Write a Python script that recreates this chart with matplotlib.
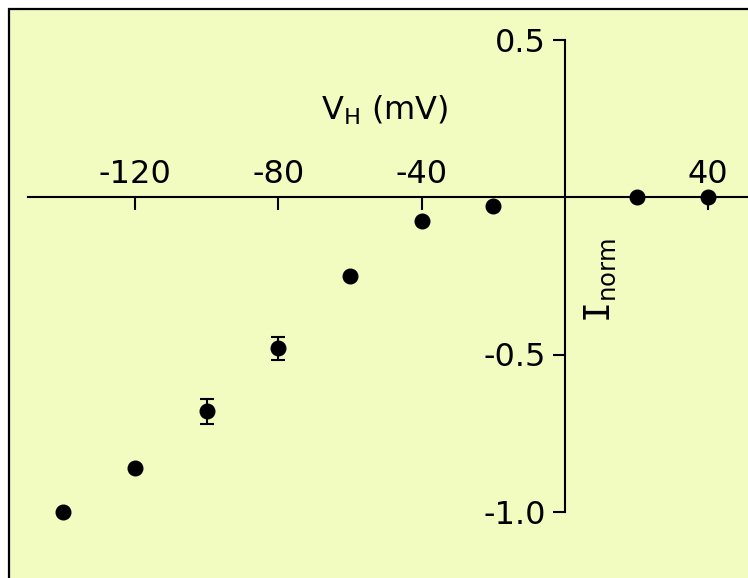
import matplotlib
matplotlib.use("Agg")
import matplotlib.pyplot as plt
from matplotlib.patches import Rectangle

# Holding potential (mV) and normalised current
v_hold = [-140, -120, -100, -80, -60, -40, -20, 20, 40]
i_norm = [-1.0, -0.86, -0.68, -0.48, -0.25, -0.075, -0.03, 0.0, 0.0]
i_err = [0.0, 0.0, 0.04, 0.037, 0.0, 0.0, 0.0, 0.0, 0.0]

x_ticks = [-120, -80, -40, 40]
y_ticks = [0.5, -0.5, -1.0]
y_tick_labels = ["0.5", "-0.5", "-1.0"]

plt.rcParams["axes.unicode_minus"] = False
plt.rcParams["font.family"] = "DejaVu Sans"

W, H = 748, 578
fig = plt.figure(figsize=(W / 100, H / 100), dpi=100)
fig.patch.set_facecolor("white")

# Panel background with black frame on left and top
bg = "#F2FBC0"
fig.patches.append(Rectangle((9 / W, -0.05), 1.2, 1 - 9 / H + 0.05,
                             transform=fig.transFigure, facecolor=bg,
                             edgecolor="black", linewidth=1.6, zorder=-10))

ax = fig.add_axes([0, 0, 1, 1])
ax.patch.set_visible(False)

px_per_mv = 143.3 / 40
px_per_unit = 315.0
x0, y0 = 565, 197
ax.set_xlim(-x0 / px_per_mv, (W - x0) / px_per_mv)
ax.set_ylim(-(H - y0) / px_per_unit, y0 / px_per_unit)

# Axes crossing at the origin
ax.spines["bottom"].set_visible(False)
ax.spines["right"].set_visible(False)
ax.spines["top"].set_position(("data", 0))
ax.spines["top"].set_bounds(-150, 60)
ax.spines["left"].set_position(("data", 0))
ax.spines["left"].set_bounds(-1.0, 0.5)
for s in ("top", "left"):
    ax.spines[s].set_linewidth(1.5)

ax.xaxis.set_ticks_position("top")
ax.set_xticks(x_ticks)
ax.set_xticklabels([str(t) for t in x_ticks])
ax.tick_params(axis="x", direction="in", length=9, width=1.5,
               labelsize=23, pad=5)

ax.yaxis.set_ticks_position("left")
ax.set_yticks(y_ticks)
ax.set_yticklabels(y_tick_labels)
ax.tick_params(axis="y", direction="out", length=9, width=1.5,
               labelsize=23, pad=5)

ax.errorbar(v_hold, i_norm, yerr=i_err, fmt="o", color="black",
            markersize=10.5, capsize=5, elinewidth=1.5, capthick=1.5,
            zorder=5, clip_on=False)

ax.text(-50.2, 0.276, r"V$_\mathrm{H}$ (mV)", fontsize=23,
        ha="center", va="center")
ax.text(9.8, -0.265, r"$\mathtt{I}_{\mathsf{norm}}$", fontsize=25,
        rotation=90, ha="center", va="center")

fig.savefig("out.png", dpi=100, facecolor=fig.get_facecolor())
